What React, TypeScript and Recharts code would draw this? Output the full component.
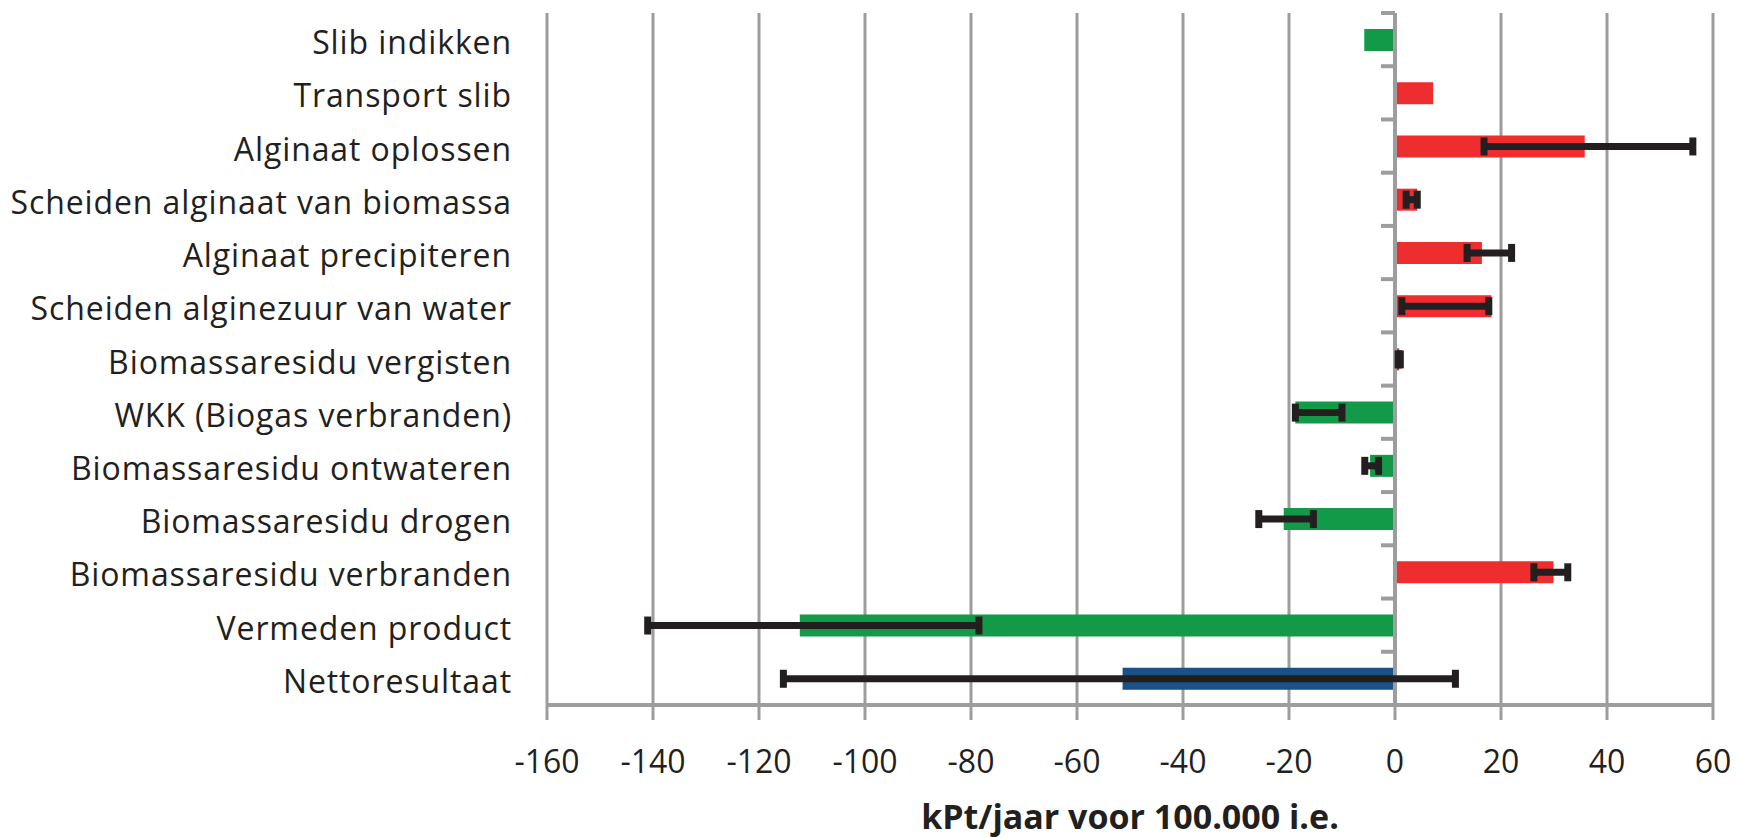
import React from 'react';
import { BarChart, Bar, Cell, XAxis, YAxis, CartesianGrid, ErrorBar, ReferenceLine } from 'recharts';

const categories = [
  'Slib indikken',
  'Transport slib',
  'Alginaat oplossen',
  'Scheiden alginaat van biomassa',
  'Alginaat precipiteren',
  'Scheiden alginezuur van water',
  'Biomassaresidu vergisten',
  'WKK (Biogas verbranden)',
  'Biomassaresidu ontwateren',
  'Biomassaresidu drogen',
  'Biomassaresidu verbranden',
  'Vermeden product',
  'Nettoresultaat',
];

const values = [-5.8, 7.2, 35.8, 4.2, 16.4, 18.2, 0.8, -18.8, -4.7, -21.0, 29.9, -112.3, -51.4];

// lower / upper error (kPt), null = no error bar
const errLow = [null, null, 19.0, 2.1, 2.8, 16.9, 0.2, 0, 1.0, 4.7, 3.7, 28.7, 64.0];
const errHigh = [null, null, 20.4, 0, 5.6, -0.5, 0.2, 8.8, 1.6, 5.6, 2.7, 33.8, 62.8];

const xTicks = [-160, -140, -120, -100, -80, -60, -40, -20, 0, 20, 40, 60];

const GREEN = '#139a48';
const RED = '#ee2d2e';
const BLUE = '#1a5186';
const GRID = '#9d9d9f';
const INK = '#231f20';
const FONT = '"Open Sans", sans-serif';

const W = 1737;
const H = 838;
const PLOT_LEFT = 547;
const PLOT_RIGHT = 1713;
const PLOT_TOP = 13;
const PLOT_BOTTOM = 705;
const X_MIN = -160;
const X_MAX = 60;

const data = categories.map((name, i) => ({
  name,
  value: values[i],
  err: errLow[i] === null ? null : [errLow[i], errHigh[i]],
}));

function barColor(name: string, v: number) {
  if (name === 'Nettoresultaat') return BLUE;
  return v < 0 ? GREEN : RED;
}

function CategoryTick(props: any) {
  const { y, payload } = props;
  const band = (PLOT_BOTTOM - PLOT_TOP) / categories.length;
  const zeroX = PLOT_LEFT + ((0 - X_MIN) / (X_MAX - X_MIN)) * (PLOT_RIGHT - PLOT_LEFT);
  return (
    <g>
      <text
        x={512}
        y={y}
        dy={2}
        textAnchor="end"
        dominantBaseline="central"
        fontFamily={FONT}
        fontSize={32}
        letterSpacing={0.9}
        fill={INK}
      >
        {payload.value}
      </text>
      <line x1={zeroX - 14} x2={zeroX} y1={y - band / 2} y2={y - band / 2} stroke={GRID} strokeWidth={4} />
    </g>
  );
}

function AxisTitle(props: any) {
  const { viewBox } = props;
  return (
    <text
      x={viewBox.x + viewBox.width / 2}
      y={829}
      textAnchor="middle"
      fontFamily={FONT}
      fontWeight="bold"
      fontSize={34}
      fill={INK}
    >
      kPt/jaar voor 100.000 i.e.
    </text>
  );
}

export default function App() {
  return (
    <div style={{ position: 'absolute', left: 0, top: 0, width: W, height: H, background: '#fff' }}>
      <BarChart
        width={W}
        height={H}
        data={data}
        layout="vertical"
        margin={{ top: PLOT_TOP, right: W - PLOT_RIGHT, bottom: 0, left: 0 }}
        barCategoryGap={0}
      >
        <CartesianGrid vertical horizontal={false} stroke={GRID} strokeWidth={3} />
        <XAxis
          type="number"
          domain={[X_MIN, X_MAX]}
          ticks={xTicks}
          allowDataOverflow
          height={H - PLOT_BOTTOM}
          axisLine={{ stroke: GRID, strokeWidth: 4 }}
          tickLine={{ stroke: GRID, strokeWidth: 3 }}
          tickSize={15}
          tickMargin={30}
          tick={{ fontFamily: FONT, fontSize: 32, fill: INK }}
          label={<AxisTitle />}
        />
        <YAxis
          type="category"
          dataKey="name"
          width={PLOT_LEFT}
          axisLine={false}
          tickLine={false}
          tick={<CategoryTick />}
          interval={0}
        />
        <ReferenceLine x={0} stroke={GRID} strokeWidth={4} />
        <Bar dataKey="value" barSize={22} isAnimationActive={false}>
          {data.map((d) => (
            <Cell key={d.name} fill={barColor(d.name, d.value)} />
          ))}
          <ErrorBar dataKey="err" direction="x" width={9} strokeWidth={7} stroke={INK} />
        </Bar>
      </BarChart>
    </div>
  );
}
